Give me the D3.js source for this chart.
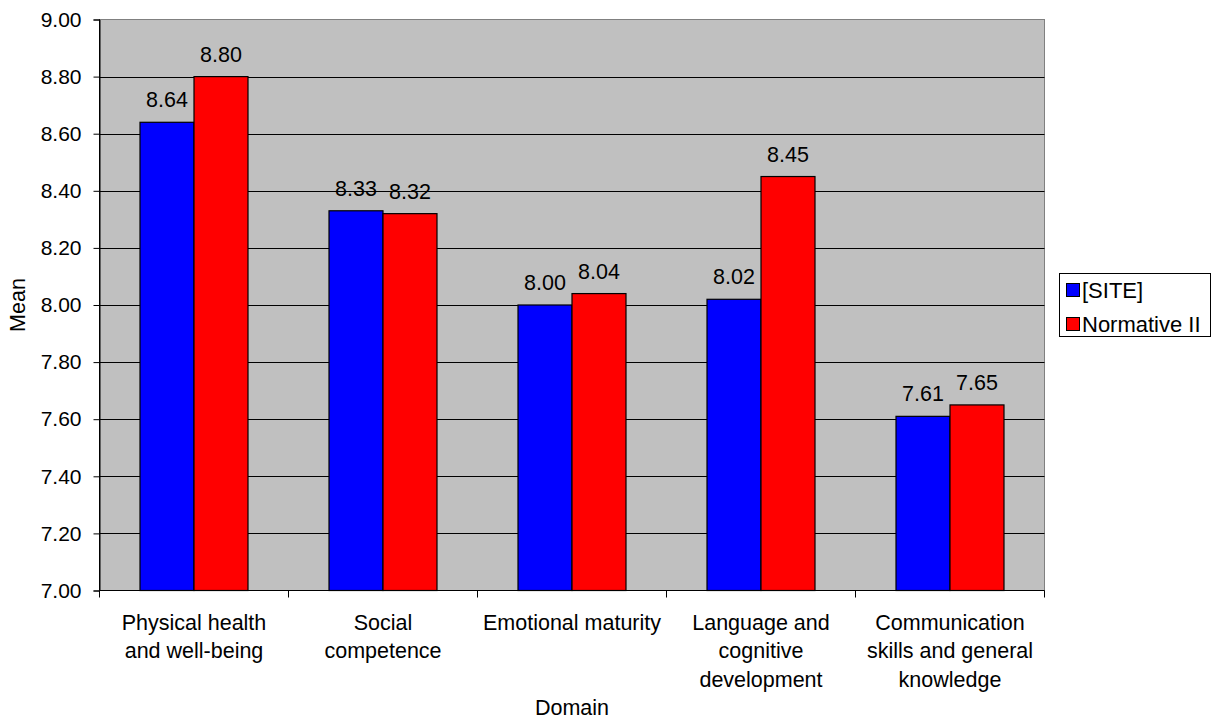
<!DOCTYPE html>
<html>
<head>
<meta charset="utf-8">
<script src="https://cdn.jsdelivr.net/npm/d3@7"></script>
<style>
  html, body { margin: 0; padding: 0; background: #ffffff; }
  svg { display: block; font-family: "Liberation Sans", Arial, sans-serif; }
</style>
</head>
<body>
<svg id="chart" width="1214" height="721"></svg>
<script>
const categories = [
  "Physical health\nand well-being",
  "Social\ncompetence",
  "Emotional maturity",
  "Language and\ncognitive\ndevelopment",
  "Communication\nskills and general\nknowledge"
];
const seriesNames = ["[SITE]", "Normative II"];
const siteValues = [8.64, 8.33, 8.00, 8.02, 7.61];
const normativeValues = [8.80, 8.32, 8.04, 8.45, 7.65];
const yTicks = [7.0, 7.2, 7.4, 7.6, 7.8, 8.0, 8.2, 8.4, 8.6, 8.8, 9.0];
const colors = ["#0000FF", "#FF0000"];

(function () {
const svg = d3.select("#chart");
const pL = 99.5, pR = 1044.5, pT = 19.5, pB = 590.5;
const fontSize = 21.5;
const tickFont = 21;

const x = d3.scaleBand().domain(d3.range(categories.length)).range([pL, pR]).paddingInner(0).paddingOuter(0);
const y = d3.scaleLinear().domain([7, 9]).range([pB, pT]);

const groupW = x.bandwidth() * 0.5714;
const barW = groupW / 2;
const off = (x.bandwidth() - groupW) / 2;

// plot background
svg.append("rect").attr("x", pL).attr("y", pT).attr("width", pR - pL).attr("height", pB - pT)
  .attr("fill", "#C0C0C0").attr("stroke", "#808080").attr("stroke-width", 1);

// gridlines
svg.append("g").selectAll("line").data(yTicks.slice(1, -1)).join("line")
  .attr("x1", pL).attr("x2", pR)
  .attr("y1", d => Math.round(y(d)) + 0.5).attr("y2", d => Math.round(y(d)) + 0.5)
  .attr("stroke", "#000").attr("stroke-width", 1);

// y axis
const yAxis = d3.axisLeft(y).tickValues(yTicks).tickFormat(d3.format(".2f")).tickSize(6).tickPadding(12);
const yg = svg.append("g").attr("transform", `translate(${pL},0)`).call(yAxis);
yg.select(".domain").attr("stroke", "#000");
yg.selectAll(".tick line").attr("stroke", "#000");
yg.selectAll(".tick text").attr("font-size", tickFont).attr("font-family", "Liberation Sans, Arial, sans-serif").attr("fill", "#000");

// bars
const series = [siteValues, normativeValues];
series.forEach((vals, si) => {
  svg.append("g").selectAll("rect").data(vals).join("rect")
    .attr("x", (d, i) => x(i) + off + si * barW)
    .attr("y", d => y(d))
    .attr("width", barW)
    .attr("height", d => y(7) - y(d))
    .attr("fill", colors[si])
    .attr("stroke", "#000").attr("stroke-width", 1.2);
  svg.append("g").selectAll("text").data(vals).join("text")
    .attr("x", (d, i) => x(i) + off + si * barW + barW / 2)
    .attr("y", d => y(d) - 15)
    .attr("text-anchor", "middle")
    .attr("font-size", fontSize)
    .attr("fill", "#000")
    .text(d => d3.format(".2f")(d));
});

// x axis line and ticks
svg.append("line").attr("x1", pL).attr("x2", pR).attr("y1", pB).attr("y2", pB).attr("stroke", "#000");
svg.append("line").attr("x1", pL).attr("x2", pL).attr("y1", pT).attr("y2", pB).attr("stroke", "#000");
const bounds = d3.range(categories.length + 1).map(i => i < categories.length ? x(i) : pR);
svg.append("g").selectAll("line").data(bounds).join("line")
  .attr("x1", d => d).attr("x2", d => d).attr("y1", pB).attr("y2", pB + 7)
  .attr("stroke", "#000");

// category labels
const catG = svg.append("g");
categories.forEach((c, i) => {
  const t = catG.append("text")
    .attr("x", x(i) + x.bandwidth() / 2)
    .attr("y", 629)
    .attr("text-anchor", "middle")
    .attr("font-size", fontSize)
    .attr("fill", "#000");
  c.split("\n").forEach((line, li) => {
    t.append("tspan").attr("x", x(i) + x.bandwidth() / 2).attr("y", 629.5 + li * 28.5).text(line);
  });
});

// axis titles
svg.append("text").attr("x", (pL + pR) / 2).attr("y", 715).attr("text-anchor", "middle")
  .attr("font-size", fontSize).attr("fill", "#000").text("Domain");
svg.append("text").attr("transform", `translate(25,${(pT + pB) / 2}) rotate(-90)`).attr("text-anchor", "middle")
  .attr("font-size", fontSize).attr("fill", "#000").text("Mean");

// legend
const lg = svg.append("g");
lg.append("rect").attr("x", 1059.5).attr("y", 273.5).attr("width", 151).attr("height", 63)
  .attr("fill", "#fff").attr("stroke", "#000").attr("stroke-width", 1);
seriesNames.forEach((n, i) => {
  const cy = 290 + i * 34;
  lg.append("rect").attr("x", 1066.5).attr("y", cy - 6.5).attr("width", 13).attr("height", 13)
    .attr("fill", colors[i]).attr("stroke", "#000").attr("stroke-width", 1);
  lg.append("text").attr("x", 1082).attr("y", cy + 7.5).attr("font-size", 22).attr("fill", "#000").text(n);
});
})();
</script>
</body>
</html>
